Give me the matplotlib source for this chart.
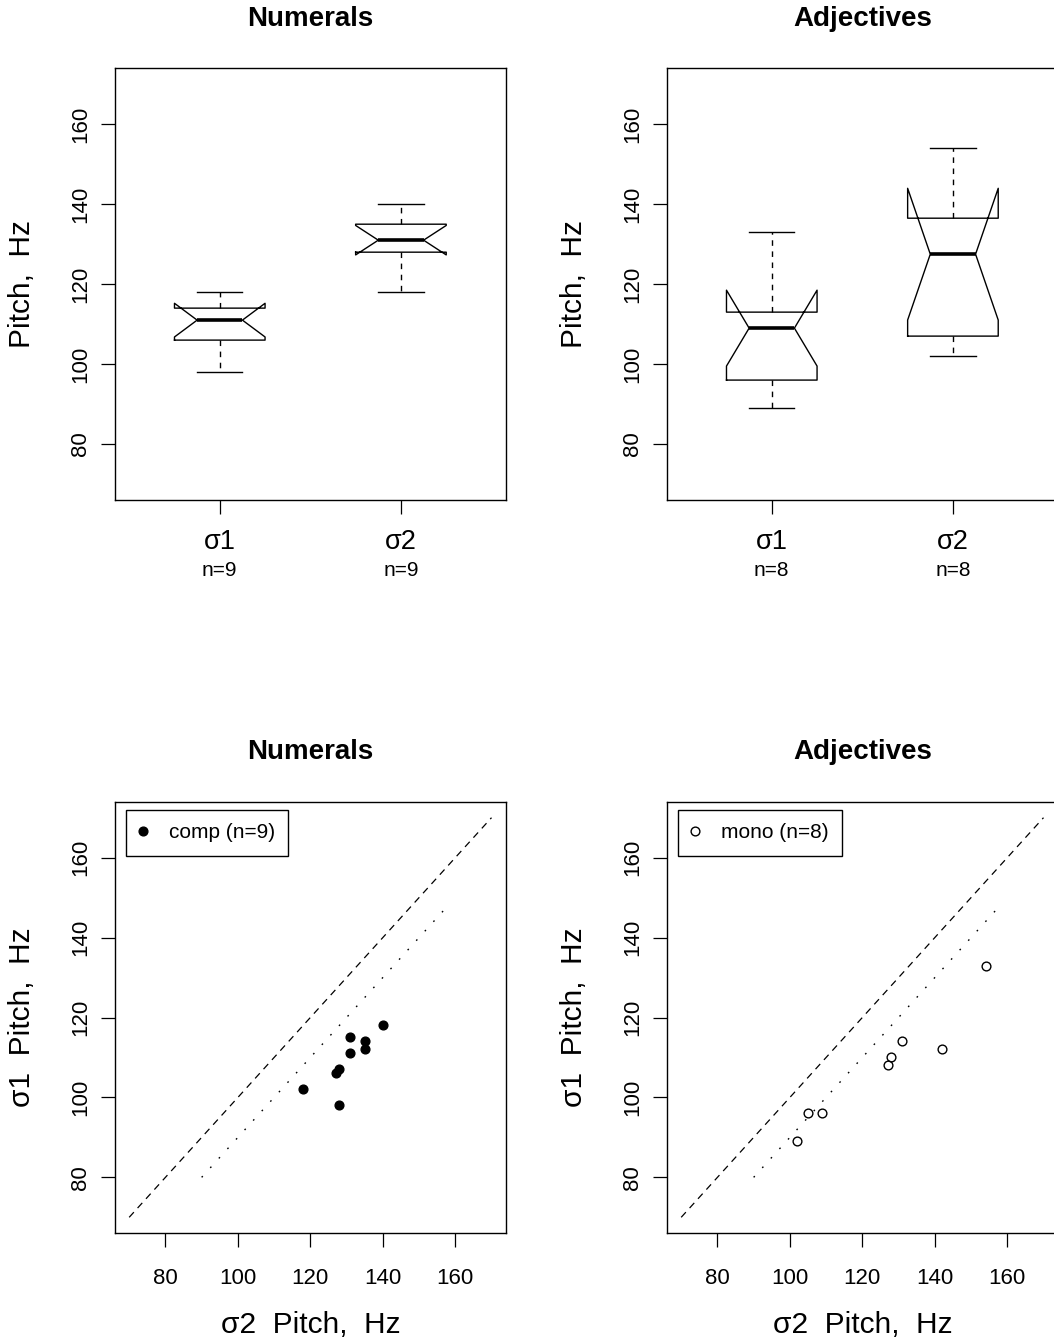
import numpy as np
import matplotlib
matplotlib.use("Agg")
import matplotlib.pyplot as plt

plt.rcParams['font.family'] = ['Liberation Sans', 'DejaVu Sans']
plt.rcParams['lines.scale_dashes'] = False

# pitch of first / second syllable per word, Hz
num_s1 = [102, 98, 106, 107, 111, 115, 114, 112, 118]
num_s2 = [118, 128, 127, 128, 131, 131, 135, 135, 140]
adj_s1 = [89, 96, 96, 108, 110, 114, 112, 133]
adj_s2 = [102, 105, 109, 127, 128, 131, 142, 154]

groups = ["Numerals", "Adjectives"]
syllables = ["σ1", "σ2"]
legend_labels = ["comp (n=9)", "mono (n=8)"]
ticks = [80, 100, 120, 140, 160]
lims = [70, 170]
ref_line = [70, 170]      # y = x
shift_line = [90, 158]    # y = x - 10
shift = 10


def fivenum(v):
    # Tukey hinges, like R's boxplot
    v = np.sort(np.asarray(v, dtype=float))
    n = len(v)
    n4 = np.floor((n + 3) / 2) / 2
    d = np.array([1, n4, (n + 1) / 2, n + 1 - n4, n]) - 1
    return 0.5 * (v[np.floor(d).astype(int)] + v[np.ceil(d).astype(int)])


def box_stats(v):
    lo, q1, med, q3, hi = fivenum(v)
    half = 1.58 * (q3 - q1) / np.sqrt(len(v))
    return dict(med=med, q1=q1, q3=q3, whislo=lo, whishi=hi,
                cilo=med - half, cihi=med + half, fliers=[])


W, H = 1054, 1343
fig = plt.figure(figsize=(W / 100, H / 100), dpi=100)


def add_ax(x0, y0, x1, y1):
    return fig.add_axes([x0 / W, 1 - y1 / H, (x1 - x0) / W, (y1 - y0) / H])


def style(ax, title):
    for s in ax.spines.values():
        s.set_linewidth(1.0)
    ax.tick_params(direction='out', length=10, width=0.9, labelsize=16)
    ax.tick_params(axis='x', pad=15)
    ax.tick_params(axis='y', pad=7)
    ax.set_ylim(lims[0] - 4, lims[1] + 4)
    ax.set_yticks(ticks)
    ax.set_yticklabels(ticks, rotation=90, va='center')
    ax.text(0.5, 1.115, title, transform=ax.transAxes, ha='center', va='center',
            fontsize=20, fontweight='bold')


lefts = [(114.7, 506), (666.7, 1058)]

# boxplots
for (x0, x1), title, s1, s2 in zip(lefts, groups, [num_s1, adj_s1], [num_s2, adj_s2]):
    ax = add_ax(x0, 68.3, x1, 500)
    ax.bxp([box_stats(s1), box_stats(s2)], positions=[1, 2], widths=0.5,
           shownotches=True, showfliers=False,
           boxprops=dict(color='black', lw=1.0),
           medianprops=dict(color='black', lw=2.6, solid_capstyle='butt'),
           whiskerprops=dict(color='black', lw=1.0, linestyle=(0, (4, 4))),
           capprops=dict(color='black', lw=1.0))
    style(ax, title)
    ax.set_xlim(0.42, 2.58)
    ax.set_xticks([1, 2])
    ax.set_xticklabels([])
    for pos, lab, vals in zip([1, 2], syllables, [s1, s2]):
        ax.text(pos, -0.098, lab, transform=ax.get_xaxis_transform(),
                ha='center', va='center', fontsize=19.5)
        ax.text(pos, -0.163, "n=%d" % len(vals), transform=ax.get_xaxis_transform(),
                ha='center', va='center', fontsize=15)
    ax.text(-0.237, 0.5, "Pitch,  Hz", transform=ax.transAxes, rotation=90,
            ha='center', va='center', fontsize=21.5)

# scatter plots
for (x0, x1), title, s1, s2, lab, fill in zip(lefts, groups, [num_s1, adj_s1],
                                               [num_s2, adj_s2], legend_labels,
                                               ['black', 'none']):
    ax = add_ax(x0, 801.7, x1, 1233.3)
    ax.plot(ref_line, ref_line, color='black', lw=0.9, linestyle=(0, (5, 4)))
    ax.plot(shift_line, [v - shift for v in shift_line], color='black', lw=1.0,
            linestyle=(0, (1.2, 8)))
    ax.plot(s2, s1, 'o', ms=6.3, mfc=fill, mec='black', mew=1.0, ls='none', label=lab)
    style(ax, title)
    ax.set_xlim(lims[0] - 4, lims[1] + 4)
    ax.set_xticks(ticks)
    ax.text(-0.237, 0.5, "σ1  Pitch,  Hz", transform=ax.transAxes, rotation=90,
            ha='center', va='center', fontsize=21.5)
    ax.text(0.5, -0.2125, "σ2  Pitch,  Hz", transform=ax.transAxes,
            ha='center', va='center', fontsize=21.5)
    leg = ax.legend(loc='upper left', bbox_to_anchor=(0.029, 0.981), fontsize=15,
                    frameon=True, fancybox=False, edgecolor='black', framealpha=1,
                    borderpad=0.65, handlelength=0.3, handletextpad=1.1,
                    borderaxespad=0)
    leg.get_frame().set_linewidth(1.0)

fig.savefig("out.png", dpi=100)
